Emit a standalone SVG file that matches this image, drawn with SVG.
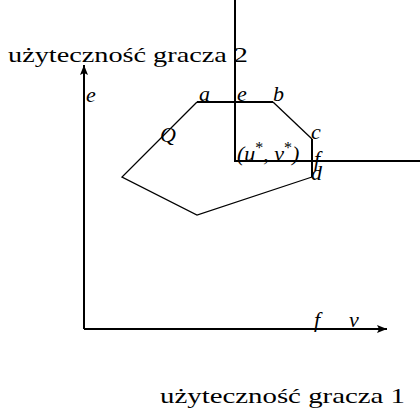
<svg xmlns="http://www.w3.org/2000/svg" width="420" height="409" viewBox="0 0 420 409">
<defs>
<marker id="arr" viewBox="0 0 10 8" refX="10" refY="4" markerWidth="10" markerHeight="8" markerUnits="userSpaceOnUse" orient="auto">
<path d="M0,0 L10,4 L0,8 L2,4 Z" fill="#000"/>
</marker>
</defs>
<style>
.t{font-family:"Liberation Serif","DejaVu Serif",serif;font-size:21px;fill:#000}
.m{font-family:"Liberation Serif","DejaVu Serif",serif;font-style:italic;font-size:22px;fill:#000}
.ax{stroke:#000;stroke-width:2;fill:none}
.pl{stroke:#000;stroke-width:1.3;fill:none}
.th{stroke:#000;stroke-width:2;fill:none}
</style>
<rect width="420" height="409" fill="#fff"/>
<g id="connectors">
<path class="ax" d="M84,329 V65" marker-end="url(#arr)"/>
<path class="ax" d="M84,329 H387" marker-end="url(#arr)"/>
<path class="pl" d="M197,102 L122,177 L197,215 L312,177"/>
<path class="pl" d="M273,102 L312,139"/>
<path class="th" d="M197,102 H273"/>
<path class="th" d="M312,139 V177"/>
<path class="th" d="M235,0 V161 H420"/>
</g>
<g id="labels">
<text class="t" x="8" y="62" textLength="240" lengthAdjust="spacingAndGlyphs">użyteczność gracza 2</text>
<text class="t" x="160" y="403" textLength="245" lengthAdjust="spacingAndGlyphs">użyteczność gracza 1</text>
<text class="m" x="86" y="102">e</text>
<text class="m" x="199" y="101">a</text>
<text class="m" x="237" y="101">e</text>
<text class="m" x="273" y="101">b</text>
<text class="m" x="160" y="142">Q</text>
<text class="m" x="311" y="139">c</text>
<text class="m" x="237" y="161">(u<tspan dy="-8" font-size="16" font-style="normal">*</tspan><tspan dy="8">, v</tspan><tspan dy="-8" font-size="16" font-style="normal">*</tspan><tspan dy="8">)</tspan></text>
<text class="m" x="314" y="166">f</text>
<text class="m" x="311" y="180">d</text>
<text class="m" x="314" y="327">f</text>
<text class="m" x="349" y="327">v</text>
</g>
</svg>
